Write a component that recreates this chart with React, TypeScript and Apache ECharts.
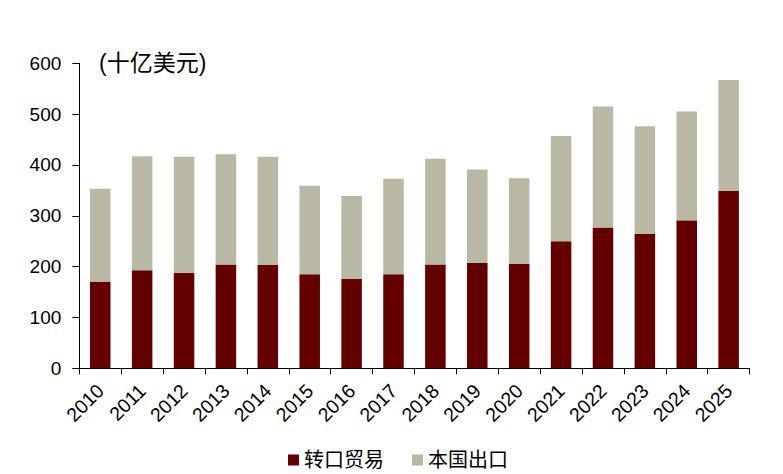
import React, { useEffect, useRef } from "react";
import * as echarts from "echarts";

const years = ["2010","2011","2012","2013","2014","2015","2016","2017","2018","2019","2020","2021","2022","2023","2024","2025"];
const reExports = [170,193,188,204,203,185,176,185,204,207,205,250,277,264,291,349];
const domesticExports = [183,224,228,217,213,174,163,188,208,184,169,207,238,212,214,218];
const seriesNames = ["转口贸易", "本国出口"];
const unitLabel = "(十亿美元)";

const FONT = "'Liberation Sans', Arial, 'Noto Sans CJK SC', sans-serif";

export default function App() {
  const ref = useRef<HTMLDivElement>(null);
  useEffect(() => {
    if (!ref.current) return;
    const chart = echarts.init(ref.current, null, { renderer: "svg" });
    chart.setOption({
      animation: false,
      backgroundColor: "#ffffff",
      textStyle: { fontFamily: FONT },
      grid: { left: 79.3, right: 33.4, top: 63.3, bottom: 105.7 },
      legend: {
        left: 288,
        top: 450,
        padding: 0,
        itemWidth: 11,
        itemHeight: 11,
        itemGap: 28,
        icon: "rect",
        textStyle: { fontSize: 20, color: "#000", fontFamily: FONT },
        data: seriesNames,
      },
      graphic: [
        {
          type: "text",
          left: 99,
          top: 51,
          style: { text: unitLabel, fontSize: 23, fill: "#000", fontFamily: FONT },
        },
      ],
      xAxis: {
        type: "category",
        data: years,
        axisLine: { lineStyle: { color: "#000", width: 1 } },
        axisTick: { show: true, length: 6, lineStyle: { color: "#000" } },
        axisLabel: { rotate: 45, fontSize: 19.5, color: "#000", margin: 19, interval: 0, fontFamily: FONT },
      },
      yAxis: {
        type: "value",
        min: 0,
        max: 600,
        interval: 100,
        axisLine: { show: true, lineStyle: { color: "#000", width: 1 } },
        axisTick: { show: true, length: 7, lineStyle: { color: "#000" } },
        axisLabel: { fontSize: 19, color: "#000", margin: 18, fontFamily: FONT },
        splitLine: { show: false },
      },
      series: [
        {
          name: seriesNames[0],
          type: "bar",
          stack: "total",
          barWidth: "49%",
          data: reExports,
          itemStyle: { color: "#650000" },
        },
        {
          name: seriesNames[1],
          type: "bar",
          stack: "total",
          barWidth: "49%",
          data: domesticExports,
          itemStyle: { color: "#b9b8a5" },
        },
      ],
    });
    return () => chart.dispose();
  }, []);
  return (
    <div
      ref={ref}
      style={{ position: "fixed", left: 0, top: 0, width: 783, height: 474 }}
    />
  );
}
